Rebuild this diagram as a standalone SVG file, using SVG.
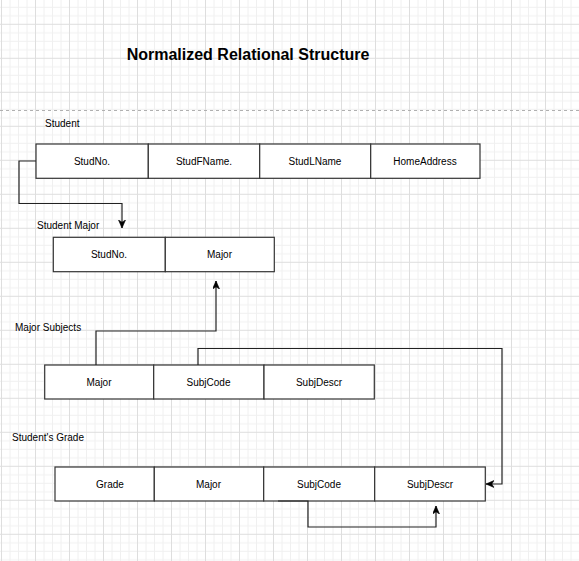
<svg xmlns="http://www.w3.org/2000/svg" width="579" height="561" viewBox="0 0 579 561">
  <defs>
    <pattern id="grid" patternUnits="userSpaceOnUse" x="1" y="23.8" width="34" height="34">
      <g stroke="#f0f0f0" stroke-width="1">
        <line x1="9" y1="0" x2="9" y2="34"/>
        <line x1="17.5" y1="0" x2="17.5" y2="34"/>
        <line x1="26" y1="0" x2="26" y2="34"/>
        <line x1="0" y1="9" x2="34" y2="9"/>
        <line x1="0" y1="17.5" x2="34" y2="17.5"/>
        <line x1="0" y1="26" x2="34" y2="26"/>
      </g>
      <g stroke="#dedede" stroke-width="1">
        <line x1="0.5" y1="0" x2="0.5" y2="34"/>
        <line x1="0" y1="0.5" x2="34" y2="0.5"/>
      </g>
    </pattern>
    <marker id="arrow" markerUnits="userSpaceOnUse" markerWidth="10" markerHeight="10" refX="8" refY="3.5" orient="auto">
      <path d="M0,0 L8,3.5 L0,7 L2.2,3.5 Z" fill="#000" stroke="#000" stroke-width="0.6"/>
    </marker>
  </defs>
  <style>
    .cell rect { fill: #ffffff; stroke: #333333; stroke-width: 1.2; }
    .cell text { font-family: "Liberation Sans", Arial, sans-serif; font-size: 10px; fill: #000; text-anchor: middle; dominant-baseline: central; }
    .label { font-family: "Liberation Sans", Arial, sans-serif; font-size: 10px; fill: #000; }
    .title { font-family: "Liberation Sans", Arial, sans-serif; font-size: 16px; font-weight: bold; fill: #000; text-anchor: middle; }
    .edge { fill: none; stroke: #222222; stroke-width: 1.2; }
  </style>

  <rect x="0" y="0" width="579" height="561" fill="#ffffff"/>
  <rect x="0" y="0" width="579" height="561" fill="url(#grid)"/>

  <text class="title" x="248" y="59.5">Normalized Relational Structure</text>
  <line x1="0" y1="110.5" x2="579" y2="110.5" stroke="#b0b0b0" stroke-width="1" stroke-dasharray="3,3"/>

  <text class="label" x="45" y="126.5">Student</text>
  <text class="label" x="37" y="228.5">Student Major</text>
  <text class="label" x="15" y="330.5">Major Subjects</text>
  <text class="label" x="12" y="440.5">Student's Grade</text>

  <g id="student">
    <g id="student-studno" class="cell"><rect x="36" y="144" width="112.3" height="34.3"/><text x="92" y="161">StudNo.</text></g>
    <g id="student-studfname" class="cell"><rect x="148.3" y="144" width="111.4" height="34.3"/><text x="204" y="161">StudFName.</text></g>
    <g id="student-studlname" class="cell"><rect x="259.7" y="144" width="111" height="34.3"/><text x="315" y="161">StudLName</text></g>
    <g id="student-homeaddress" class="cell"><rect x="370.7" y="144" width="109.3" height="34.3"/><text x="425" y="161">HomeAddress</text></g>
  </g>

  <g id="student-major">
    <g id="sm-studno" class="cell"><rect x="53.3" y="237.3" width="112" height="34.4"/><text x="109" y="254.5">StudNo.</text></g>
    <g id="sm-major" class="cell"><rect x="165.3" y="237.3" width="109" height="34.4"/><text x="219.5" y="254.5">Major</text></g>
  </g>

  <g id="major-subjects">
    <g id="ms-major" class="cell"><rect x="44.7" y="365" width="109" height="34"/><text x="99" y="382">Major</text></g>
    <g id="ms-subjcode" class="cell"><rect x="153.7" y="365" width="110.3" height="34"/><text x="208.5" y="382">SubjCode</text></g>
    <g id="ms-subjdescr" class="cell"><rect x="264" y="365" width="110.3" height="34"/><text x="319" y="382">SubjDescr</text></g>
  </g>

  <g id="students-grade">
    <g id="sg-grade" class="cell"><rect x="55" y="467" width="99.3" height="34"/><text x="110" y="484">Grade</text></g>
    <g id="sg-major" class="cell"><rect x="154.3" y="467" width="109.4" height="34"/><text x="208.5" y="484">Major</text></g>
    <g id="sg-subjcode" class="cell"><rect x="263.7" y="467" width="111" height="34"/><text x="319" y="484">SubjCode</text></g>
    <g id="sg-subjdescr" class="cell"><rect x="374.7" y="467" width="110.6" height="34"/><text x="430" y="484">SubjDescr</text></g>
  </g>

  <g id="connectors">
    <path class="edge" d="M36,161 H19 V203.5 H122 V228" marker-end="url(#arrow)"/>
    <path class="edge" d="M96,365 V331 H216 V281" marker-end="url(#arrow)"/>
    <path class="edge" d="M198,365 V348.5 H502 V484 H486" marker-end="url(#arrow)"/>
    <path class="edge" d="M278,501 H308 V527 H436 V506" marker-end="url(#arrow)"/>
  </g>
</svg>
